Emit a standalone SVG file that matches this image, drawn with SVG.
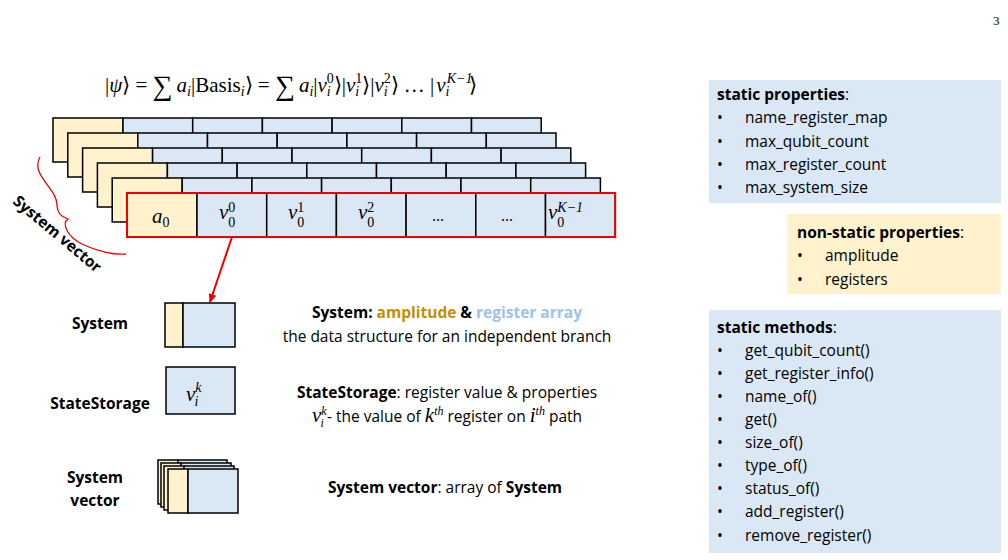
<svg xmlns="http://www.w3.org/2000/svg" width="1008" height="560" viewBox="0 0 1008 560">
<style>
.y{fill:#fff2cc;stroke:#000;stroke-width:1.5}
.b{fill:#dae8f6;stroke:#000;stroke-width:1.5}
.t{font-family:"Open Sans","Liberation Sans",sans-serif;font-size:15.5px;fill:#000}
.bd{font-weight:bold}
.eq{font-family:"Liberation Serif",serif;font-size:21px;fill:#000}
.it{font-style:italic}
.s{font-size:14px}
.ss{font-size:12px}
</style>
<defs>
<marker id="ar" markerWidth="10" markerHeight="10" refX="8" refY="5" orient="auto" markerUnits="userSpaceOnUse"><path d="M0,1 L9,5 L0,9 z" fill="#e00"/></marker>
<g id="row">
<rect class="y" x="0" y="0" width="70" height="44"/>
<rect class="b" x="70" y="0" width="69.7" height="44"/>
<rect class="b" x="139.7" y="0" width="69.7" height="44"/>
<rect class="b" x="209.4" y="0" width="69.7" height="44"/>
<rect class="b" x="279.1" y="0" width="69.7" height="44"/>
<rect class="b" x="348.8" y="0" width="69.7" height="44"/>
<rect class="b" x="418.5" y="0" width="69.7" height="44"/>
</g>
</defs>
<text x="993" y="25" font-family="Liberation Serif,serif" font-size="13">3</text>
<text class="eq" x="105" y="92">|<tspan class="it">ψ</tspan>⟩ = <tspan font-size="28" dy="3">∑</tspan><tspan class="it" dx="4" dy="-3">a</tspan><tspan class="it s" dy="4">i</tspan><tspan dy="-4">|Basis</tspan><tspan class="it s" dy="4">i</tspan><tspan dy="-4">⟩ = </tspan><tspan font-size="28" dy="3">∑</tspan><tspan class="it" dx="4" dy="-3">a</tspan><tspan class="it s" dy="4">i</tspan><tspan dy="-4">|</tspan><tspan class="it">v</tspan><tspan class="s" dy="-9">0</tspan><tspan class="it s" dx="-7" dy="13">i</tspan><tspan dx="3" dy="-4">⟩|</tspan><tspan class="it">v</tspan><tspan class="s" dy="-9">1</tspan><tspan class="it s" dx="-7" dy="13">i</tspan><tspan dx="3" dy="-4">⟩|</tspan><tspan class="it">v</tspan><tspan class="s" dy="-9">2</tspan><tspan class="it s" dx="-7" dy="13">i</tspan><tspan dx="3" dy="-4">⟩ … |</tspan><tspan class="it" dx="2">v</tspan><tspan class="it s" dx="1" dy="-9">K−1</tspan><tspan class="it s" dx="-27" dy="13">i</tspan><tspan dx="20" dy="-4">⟩</tspan></text>
<g id="system-vector-stack">
<use href="#row" x="53" y="118"/>
<use href="#row" x="67.8" y="133"/>
<use href="#row" x="82.6" y="148"/>
<use href="#row" x="97.4" y="163"/>
<use href="#row" x="112.2" y="178"/>
<use href="#row" x="127" y="193"/>
<rect x="127" y="193" width="488.2" height="44" fill="none" stroke="#e00" stroke-width="2"/>
<text class="eq it" x="152" y="223">a<tspan class="s" font-style="normal" dy="4">0</tspan></text>
<text class="eq it" x="219" y="219">v<tspan class="s" font-style="normal" dy="-7">0</tspan><tspan class="s" font-style="normal" dx="-7" dy="15">0</tspan></text>
<text class="eq it" x="288" y="219">v<tspan class="s" font-style="normal" dy="-7">1</tspan><tspan class="s" font-style="normal" dx="-7" dy="15">0</tspan></text>
<text class="eq it" x="358" y="219">v<tspan class="s" font-style="normal" dy="-7">2</tspan><tspan class="s" font-style="normal" dx="-7" dy="15">0</tspan></text>
<text class="t" x="438" y="221" text-anchor="middle">…</text>
<text class="t" x="507" y="221" text-anchor="middle">…</text>
<text class="eq it" x="548" y="219">v<tspan class="s" dy="-7">K−1</tspan><tspan class="s" font-style="normal" dx="-26" dy="15">0</tspan></text>
<path d="M40,157 C30,175 57,188 57,205 C57,212 61,217 68,219 C62,223 66,236 82,244 C98,252 115,255 126,254" fill="none" stroke="#e00" stroke-width="1.3"/>
<text class="t bd" transform="translate(54,238) rotate(40)" text-anchor="middle">System vector</text>
</g>
<g id="connectors">
<line x1="232" y1="237" x2="210" y2="302" stroke="#e00" stroke-width="2" marker-end="url(#ar)"/>
</g>
<g id="system">
<text class="t bd" x="100" y="329" text-anchor="middle">System</text>
<rect class="y" x="165" y="303" width="18" height="44"/>
<rect class="b" x="183" y="303" width="52" height="44"/>
<text class="t" x="447" y="318" text-anchor="middle"><tspan class="bd">System: </tspan><tspan class="bd" fill="#c09000">amplitude</tspan><tspan class="bd"> &amp; </tspan><tspan class="bd" fill="#9dc3e6">register array</tspan></text>
<text class="t" x="447" y="342" text-anchor="middle">the data structure for an independent branch</text>
</g>
<g id="statestorage">
<text class="t bd" x="100" y="409" text-anchor="middle">StateStorage</text>
<rect class="b" x="166" y="367" width="69" height="47"/>
<text class="eq it" x="186" y="401">v<tspan class="s" dy="-9">k</tspan><tspan class="s" dx="-7" dy="14">i</tspan></text>
<text class="t" x="447" y="398" text-anchor="middle"><tspan class="bd">StateStorage</tspan>: register value &amp; properties</text>
<text class="t" x="447" y="422" text-anchor="middle"><tspan class="eq it" font-size="18">v</tspan><tspan class="eq it ss" dy="-7">k</tspan><tspan class="eq it ss" dx="-6" dy="12">i</tspan><tspan dx="3" dy="-5">- the value of </tspan><tspan class="eq it" font-size="18">k</tspan><tspan class="eq it ss" dy="-7">th</tspan><tspan dy="7"> register on </tspan><tspan class="eq it" font-size="18">i</tspan><tspan class="eq it ss" dy="-7">th</tspan><tspan dy="7"> path</tspan></text>
</g>
<g id="system-vector">
<text class="t bd" x="95" y="483" text-anchor="middle">System</text>
<text class="t bd" x="95" y="506" text-anchor="middle">vector</text>
<rect class="y" x="158" y="460" width="20" height="44"/>
<rect class="b" x="178" y="460" width="49" height="44"/>
<rect class="y" x="161" y="463" width="20" height="44"/>
<rect class="b" x="181" y="463" width="50" height="44"/>
<rect class="y" x="164" y="466" width="20" height="44"/>
<rect class="b" x="184" y="466" width="50" height="44"/>
<rect class="y" x="168" y="469" width="20" height="44"/>
<rect class="b" x="188" y="469" width="50" height="44"/>
<text class="t" x="445" y="493" text-anchor="middle"><tspan class="bd">System vector</tspan>: array of <tspan class="bd">System</tspan></text>
</g>
<g id="static-properties">
<rect x="709" y="80" width="292" height="123" fill="#dae8f6"/>
<text class="t" x="717" y="100"><tspan class="bd">static properties</tspan>:</text>
<text class="t" x="717" y="123">•<tspan x="745">name_register_map</tspan></text>
<text class="t" x="717" y="147">•<tspan x="745">max_qubit_count</tspan></text>
<text class="t" x="717" y="170">•<tspan x="745">max_register_count</tspan></text>
<text class="t" x="717" y="193">•<tspan x="745">max_system_size</tspan></text>
</g>
<g id="non-static-properties">
<rect x="787" y="214" width="214" height="80" fill="#fff2cc"/>
<text class="t" x="797" y="238"><tspan class="bd">non-static properties</tspan>:</text>
<text class="t" x="797" y="261">•<tspan x="825">amplitude</tspan></text>
<text class="t" x="797" y="285">•<tspan x="825">registers</tspan></text>
</g>
<g id="static-methods">
<rect x="709" y="310" width="292" height="243" fill="#dae8f6"/>
<text class="t" x="717" y="333"><tspan class="bd">static methods</tspan>:</text>
<text class="t" x="717" y="356">•<tspan x="745">get_qubit_count()</tspan></text>
<text class="t" x="717" y="379">•<tspan x="745">get_register_info()</tspan></text>
<text class="t" x="717" y="402">•<tspan x="745">name_of()</tspan></text>
<text class="t" x="717" y="425">•<tspan x="745">get()</tspan></text>
<text class="t" x="717" y="448">•<tspan x="745">size_of()</tspan></text>
<text class="t" x="717" y="471">•<tspan x="745">type_of()</tspan></text>
<text class="t" x="717" y="494">•<tspan x="745">status_of()</tspan></text>
<text class="t" x="717" y="517">•<tspan x="745">add_register()</tspan></text>
<text class="t" x="717" y="541">•<tspan x="745">remove_register()</tspan></text>
</g>
</svg>
